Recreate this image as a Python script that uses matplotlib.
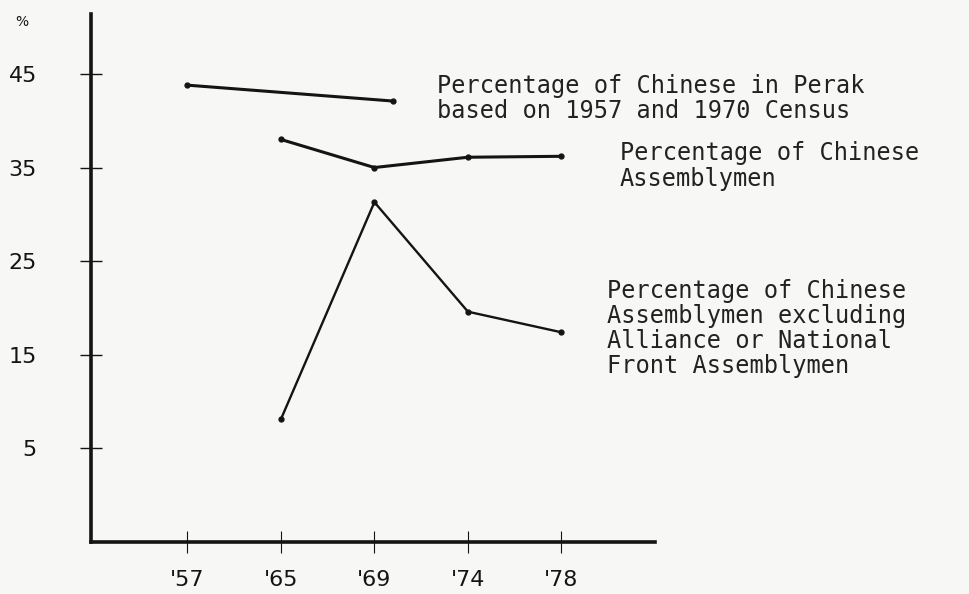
import matplotlib.pyplot as plt

# category axis: election years
years = ["'57", "'65", "'69", "'74", "'78"]
yticks = [5, 15, 25, 35, 45]

# census points: 1957 and 1970 (1970 sits between '69 and '74)
census_x = [0, 2.2]
census_pct = [43.8, 42.1]

assembly_x = [1, 2, 3, 4]
assembly_pct = [38.0, 35.0, 36.1, 36.2]

opposition_x = [1, 2, 3, 4]
opposition_pct = [8.1, 31.3, 19.6, 17.4]

bg = '#f7f7f5'
ink = '#141414'
mono = 'DejaVu Sans Mono'

fig = plt.figure(figsize=(9.7, 5.94), dpi=100, facecolor=bg)
ax = fig.add_axes([91/970, 1-542/594, (655-91)/970, (542-14)/594])
ax.set_facecolor(bg)

ax.plot(census_x, census_pct, '-o', color=ink, lw=2.2, ms=3.5)
ax.plot(assembly_x, assembly_pct, '-o', color=ink, lw=2.2, ms=3.5)
ax.plot(opposition_x, opposition_pct, '-o', color=ink, lw=1.7, ms=3.5)

ax.set_xlim(-1.03, 5.0)
ax.set_ylim(-5, 51.4)
for s in ['top', 'right']:
    ax.spines[s].set_visible(False)
for s in ['left', 'bottom']:
    ax.spines[s].set_linewidth(2.6)
    ax.spines[s].set_color(ink)

ax.set_yticks(yticks)
ax.set_xticks(range(len(years)), years)
ax.tick_params(axis='y', direction='inout', length=16, width=1, pad=31,
               labelsize=16, colors=ink)
ax.tick_params(axis='x', direction='inout', length=16, width=0.8, pad=12,
               labelsize=16, colors=ink)

fig.text(22/970, 1-22/594, '%', fontsize=10, color=ink, ha='center', va='center')

fig.text(437/970, 1-74/594,
         'Percentage of Chinese in Perak\nbased on 1957 and 1970 Census',
         family=mono, fontsize=17, va='top', linespacing=1.03, color='#222222')
fig.text(620/970, 1-141/594,
         'Percentage of Chinese\nAssemblymen',
         family=mono, fontsize=17, va='top', linespacing=1.08, color='#222222')
fig.text(607/970, 1-279/594,
         'Percentage of Chinese\nAssemblymen excluding\nAlliance or National\nFront Assemblymen',
         family=mono, fontsize=17, va='top', linespacing=1.06, color='#222222')

fig.savefig('out.png', dpi=100, facecolor=bg)
